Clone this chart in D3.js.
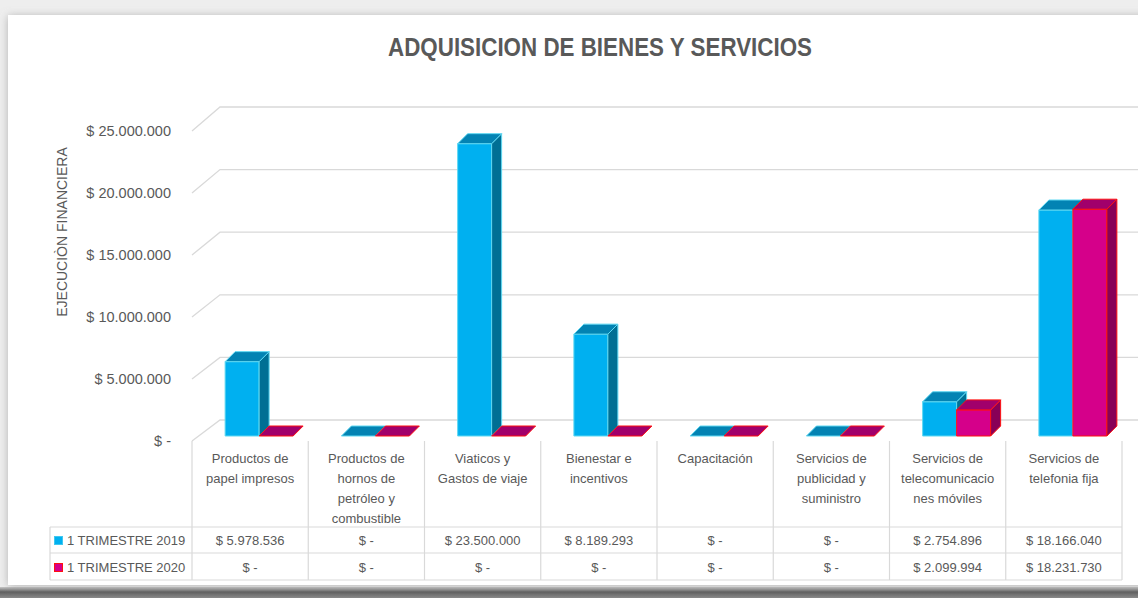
<!DOCTYPE html>
<html>
<head>
<meta charset="utf-8">
<script src="https://cdn.jsdelivr.net/npm/d3@7"></script>
<style>
  html, body { margin: 0; padding: 0; background: #efefef; }
  svg { display: block; }
  text { font-family: "Liberation Sans", Arial, sans-serif; }
</style>
</head>
<body>
<svg id="chart" width="1138" height="598"></svg>
<script>
// ---- data ----
const categories = [
  "Productos de papel impresos",
  "Productos de hornos de petróleo y combustible",
  "Viaticos y Gastos de viaje",
  "Bienestar e incentivos",
  "Capacitación",
  "Servicios de publicidad y suministro",
  "Servicios de telecomunicaciones móviles",
  "Servicios de telefonia fija"
];
const categoryLines = [
  ["Productos de", "papel impresos"],
  ["Productos de", "hornos de", "petróleo y", "combustible"],
  ["Viaticos y", "Gastos de viaje"],
  ["Bienestar e", "incentivos"],
  ["Capacitación"],
  ["Servicios de", "publicidad y", "suministro"],
  ["Servicios de", "telecomunicacio", "nes móviles"],
  ["Servicios de", "telefonia fija"]
];
const seriesNames = ["1 TRIMESTRE 2019", "1 TRIMESTRE 2020"];
const values2019 = [5978536, 0, 23500000, 8189293, 0, 0, 2754896, 18166040];
const values2020 = [0, 0, 0, 0, 0, 0, 2099994, 18231730];
const yTicks = [0, 5000000, 10000000, 15000000, 20000000, 25000000];
const titleText = "ADQUISICION DE BIENES Y SERVICIOS";
const yTitle = "EJECUCIÒN FINANCIERA";

// ---- setup ----
const svg = d3.select("#chart");
const W = 1138, H = 598;
const grey = "#595959", gridC = "#d9d9d9";

const loc = d3.formatLocale({decimal: ",", thousands: ".", grouping: [3], currency: ["$", ""]});
const fmtN = loc.format(",.0f");
const money = v => v === 0 ? "$ -" : "$ " + fmtN(v);

const defs = svg.append("defs");
const sh = defs.append("filter").attr("id", "sh").attr("x", "-5%").attr("y", "-5%").attr("width", "110%").attr("height", "110%");
sh.append("feDropShadow").attr("dx", 0).attr("dy", 1).attr("stdDeviation", 4).attr("flood-color", "#8a8a8a").attr("flood-opacity", 0.6);
const bg = defs.append("linearGradient").attr("id", "bot").attr("x1", 0).attr("y1", 0).attr("x2", 0).attr("y2", 1);
bg.append("stop").attr("offset", "0%").attr("stop-color", "#c8c8c8");
bg.append("stop").attr("offset", "45%").attr("stop-color", "#5f5f5f");
bg.append("stop").attr("offset", "100%").attr("stop-color", "#8a8a8a");

svg.append("rect").attr("width", W).attr("height", H).attr("fill", "#eeeeee");
svg.append("rect").attr("x", 0).attr("y", 587).attr("width", W).attr("height", 11).attr("fill", "url(#bot)");
svg.append("rect").attr("x", 8).attr("y", 15).attr("width", W + 20).attr("height", 570)
  .attr("fill", "#ffffff").attr("filter", "url(#sh)");

// title
svg.append("text").attr("x", 600).attr("y", 56).attr("text-anchor", "middle")
  .attr("font-size", 25).attr("font-weight", "bold").attr("fill", grey)
  .attr("textLength", 424).attr("lengthAdjust", "spacingAndGlyphs")
  .text(titleText);

// scales
const x = d3.scaleBand().domain(categories).range([192, 1122]).paddingInner(0).paddingOuter(0);
const yFront = d3.scaleLinear().domain([0, 25000000]).range([441, 131]);
const yBack = d3.scaleLinear().domain([0, 25000000]).range([420, 107]);
const yBar = d3.scaleLinear().domain([0, 25000000]).range([436, 125]);
const wallDx = 28;
const barW = 34, depth = 10;

// gridlines (side wall + back wall)
svg.append("g").selectAll("path").data(yTicks).join("path")
  .attr("d", t => `M${x.range()[0]},${yFront(t)}L${x.range()[0] + wallDx},${yBack(t)}L${W},${yBack(t)}`)
  .attr("fill", "none").attr("stroke", gridC).attr("stroke-width", 1.3);

// y tick labels
svg.append("g").selectAll("text").data(yTicks).join("text")
  .attr("x", 171).attr("y", t => yFront(t)).attr("dy", "0.36em")
  .attr("text-anchor", "end").attr("font-size", 14.5).attr("fill", grey)
  .text(t => money(t));

// y title
svg.append("text").attr("transform", "translate(62,232) rotate(-90)")
  .attr("text-anchor", "middle").attr("dy", "0.35em")
  .attr("font-size", 14).attr("fill", grey).text(yTitle);

// bars
const seriesStyle = [
  {front: "#00b0f0", top: "#0383b3", side: "#006f94", stroke: "#5fd8f2"},
  {front: "#d5008a", top: "#a1006b", side: "#880057", stroke: "#ff1010"}
];
const barsData = [];
categories.forEach((c, i) => {
  const cx = x(c) + x.bandwidth() / 2;
  barsData.push({c, s: 0, v: values2019[i], x0: cx - 25});
  barsData.push({c, s: 1, v: values2020[i], x0: cx - 25 + barW});
});
const gb = svg.append("g");
barsData.forEach(d => {
  const st = seriesStyle[d.s];
  const y0 = yBar(0), y1 = yBar(d.v);
  const xa = d.x0, xb = d.x0 + barW;
  const g = gb.append("g").attr("stroke", st.stroke).attr("stroke-width", 1).attr("stroke-linejoin", "round");
  if (d.v > 0) {
    g.append("rect").attr("x", xa).attr("y", y1).attr("width", barW).attr("height", y0 - y1).attr("fill", st.front);
    g.append("path").attr("d", `M${xb},${y1}L${xb + depth},${y1 - depth}L${xb + depth},${y0 - depth}L${xb},${y0}Z`).attr("fill", st.side);
  }
  g.append("path").attr("d", `M${xa},${y1}L${xa + depth},${y1 - depth}L${xb + depth},${y1 - depth}L${xb},${y1}Z`).attr("fill", st.top);
});

// data table
const tl = svg.append("g").attr("stroke", gridC).attr("stroke-width", 1.2).attr("fill", "none");
const colEdges = categories.map(c => x(c)).concat([x.range()[1]]);
colEdges.forEach(e => tl.append("line").attr("x1", e).attr("x2", e).attr("y1", 441).attr("y2", 580));
[527, 553, 580].forEach(yy => tl.append("line").attr("x1", 50).attr("x2", x.range()[1]).attr("y1", yy).attr("y2", yy));
tl.append("line").attr("x1", 50).attr("x2", 50).attr("y1", 527).attr("y2", 580);

// category labels
const gl = svg.append("g").attr("font-size", 13).attr("fill", grey).attr("text-anchor", "middle");
categories.forEach((c, i) => {
  const t = gl.append("text").attr("x", x(c) + x.bandwidth() / 2).attr("y", 463);
  categoryLines[i].forEach((ln, j) => t.append("tspan").attr("x", x(c) + x.bandwidth() / 2).attr("y", 463 + j * 20).text(ln));
});

// values
const rows = [values2019, values2020];
const rowY = [545, 572];
rows.forEach((vals, r) => {
  svg.append("g").selectAll("text").data(vals).join("text")
    .attr("x", (v, i) => x(categories[i]) + x.bandwidth() / 2).attr("y", rowY[r])
    .attr("text-anchor", "middle").attr("font-size", 13).attr("fill", grey)
    .text(v => money(v));
  svg.append("rect").attr("x", 54.5).attr("y", rowY[r] - 8.5).attr("width", 8).attr("height", 8)
    .attr("fill", seriesStyle[r].front).attr("stroke", r === 1 ? "#ff1010" : "#3fc8f0").attr("stroke-width", 1);
  svg.append("text").attr("x", 67).attr("y", rowY[r]).attr("font-size", 13).attr("fill", grey).text(seriesNames[r]);
});
</script>
</body>
</html>
